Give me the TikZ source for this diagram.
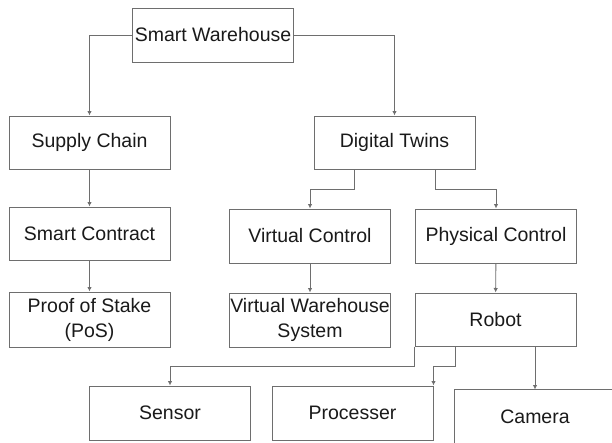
\documentclass[tikz,border=0pt]{standalone}
\usepackage{fontspec}
\setmainfont{Liberation Sans}
\usetikzlibrary{arrows.meta}
\definecolor{edge}{HTML}{6E6E6E}
\definecolor{ink}{HTML}{1A1A1A}
\tikzset{
  box/.style={draw=edge, line width=1pt, fill=white, inner sep=0pt,
    minimum width=161pt, minimum height=54pt, align=center, text=ink,
    font=\fontsize{19.5}{25}\selectfont},
  conn/.style={draw=edge, line width=0.9pt,
    -{Latex[length=4.5pt,width=4.5pt]}}
}
\begin{document}
\begin{tikzpicture}[x=1pt, y=-1pt]
  \clip (0,0) rectangle (612,442);
  \fill[white] (0,0) rectangle (612,442);

  % top level
  \node[box] (sw) at (213,35) {Smart Warehouse};

  % supply chain branch
  \node[box, minimum height=53pt] (sc) at (89.5,142.5) {Supply Chain};
  \node[box, minimum height=53pt] (ct) at (89.5,233.5) {Smart Contract};
  \node[box, minimum height=55pt] (ps) at (89.5,319.5) {Proof of Stake\\(PoS)};

  % digital twins branch
  \node[box, minimum height=53pt] (dt) at (394.5,142.5) {Digital Twins};
  \node[box] (vc) at (310,236) {Virtual Control};
  \node[box] (pc) at (496,236) {Physical Control};
  \node[box] (vw) at (310,320) {Virtual Warehouse\\System};
  \node[box, minimum height=53pt] (rb) at (495.5,319.5) {Robot};

  % robot parts
  \node[box] (se) at (170,413) {Sensor};
  \node[box] (pr) at (352.5,413) {Processer};
  % the camera box runs past the right edge of the page
  \node[box, draw=none, fill=none] (ca) at (535,417) {Camera};
  \draw[edge, line width=1pt] ([xshift=30pt]ca.north east) -- (ca.north west)
    -- ([yshift=-10pt]ca.south west);

  % connectors
  \draw[conn] (sw.west) -| (sc.north);
  \draw[conn] (sw.east) -| (dt.north);
  \draw[conn] (sc) -- (ct);
  \draw[conn] (ct) -- (ps);

  \draw[conn] ([xshift=-40.5pt]dt.south) -- ++(0,20) -| (vc.north);
  \draw[conn] ([xshift=40.5pt]dt.south) -- ++(0,20) -| (pc.north);
  \draw[conn] (vc) -- (vw);
  \draw[conn] (pc) -- (rb);

  \draw[conn] (rb.south west) -- ++(0,20) -| (se.north);
  \draw[conn] ([xshift=41pt]rb.south west) -- ++(0,20) -| (pr.north east);
  \draw[conn] (ca.north |- rb.south) -- (ca.north);
\end{tikzpicture}
\end{document}
